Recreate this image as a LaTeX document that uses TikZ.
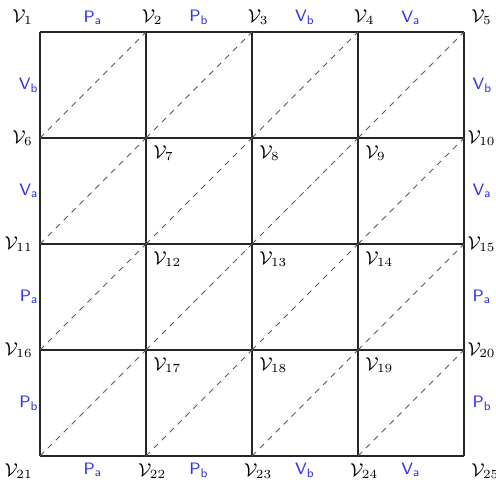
\documentclass[tikz,border=0pt]{standalone}
\usepackage{tikz}
\usepackage{xcolor}
\usetikzlibrary{positioning,calc}
\definecolor{edgeblue}{RGB}{50,50,240}
\definecolor{diaggray}{RGB}{90,90,90}

\begin{document}
\begin{tikzpicture}[
  x=1.8cm, y=1.8cm,
  grid line/.style={line width=0.6pt, black!85},
  diag line/.style={dash pattern=on 2.8pt off 2.6pt, line width=0.4pt, diaggray},
  vlabel/.style={font=\small},
  elabel/.style={edgeblue, font=\footnotesize},
]

%% Fixed frame (reference margins)
\useasboundingbox (-0.377,-0.274) rectangle (4.302,4.302);

%% Vertices: row r (top = 0), column c
\foreach \r in {0,...,4}
  \foreach \c in {0,...,4} {
    \pgfmathtruncatemacro\n{5*\r+\c+1}
    \coordinate (v\n) at (\c,4-\r);
  }

%% ---- Grid lines ----
\foreach \r in {0,...,4}
  \foreach \c in {1,...,4} {
    \pgfmathtruncatemacro\a{5*\r+\c}
    \pgfmathtruncatemacro\b{5*\r+\c+1}
    \draw[grid line] (v\a) -- (v\b);
  }
\foreach \c in {1,...,5}
  \foreach \r in {0,...,3} {
    \pgfmathtruncatemacro\a{5*\r+\c}
    \pgfmathtruncatemacro\b{5*\r+\c+5}
    \draw[grid line] (v\a) -- (v\b);
  }

%% Dashed diagonals (lower left -> upper right)
\foreach \r in {0,...,3}
  \foreach \c in {1,...,4} {
    \pgfmathtruncatemacro\a{5*\r+\c+5}
    \pgfmathtruncatemacro\b{5*\r+\c+1}
    \draw[diag line] (v\a) -- (v\b);
  }

%% ---- Vertex labels ----
\node[vlabel, above left] at (v1) {$\mathcal{V}_{1}$};
\foreach \n in {2,3,4}
  \node[vlabel, above, xshift=3pt] at (v\n) {$\mathcal{V}_{\n}$};
\node[vlabel, above right] at (v5) {$\mathcal{V}_{5}$};

\foreach \n in {6,11,16}
  \node[vlabel, left] at (v\n) {$\mathcal{V}_{\n}$};
\foreach \n in {10,15,20}
  \node[vlabel, right, inner sep=1.5pt] at (v\n) {$\mathcal{V}_{\n}$};
\foreach \n in {7,8,9,12,13,14,17,18,19}
  \node[vlabel, below right] at (v\n) {$\mathcal{V}_{\n}$};

\node[vlabel, below left] at (v21) {$\mathcal{V}_{21}$};
\foreach \n in {22,23,24}
  \node[vlabel, below, xshift=3pt] at (v\n) {$\mathcal{V}_{\n}$};
\node[vlabel, below right] at (v25) {$\mathcal{V}_{25}$};

%% ---- Boundary edge labels ----
\foreach \a/\b/\t in {1/2/P_{a}, 2/3/P_{b}, 3/4/V_{b}, 4/5/V_{a}} {
  \pgfmathtruncatemacro\p{\a+20}
  \pgfmathtruncatemacro\q{\b+20}
  \node[elabel, above] (top\a) at ($(v\a)!0.5!(v\b)$) {$\mathsf{\t}$};
  \node[elabel, below] (bot\a) at ($(v\p)!0.5!(v\q)$) {$\mathsf{\t}$};
}
\foreach \a/\b/\t in {1/6/V_{b}, 6/11/V_{a}, 11/16/P_{a}, 16/21/P_{b}} {
  \pgfmathtruncatemacro\p{\a+4}
  \pgfmathtruncatemacro\q{\b+4}
  \node[elabel, left, inner sep=0.5pt] (lft\a) at ($(v\a)!0.5!(v\b)$) {$\mathsf{\t}$};
  \node[elabel, right, inner sep=4pt] (rgt\a) at ($(v\p)!0.5!(v\q)$) {$\mathsf{\t}$};
}

\end{tikzpicture}
\end{document}
